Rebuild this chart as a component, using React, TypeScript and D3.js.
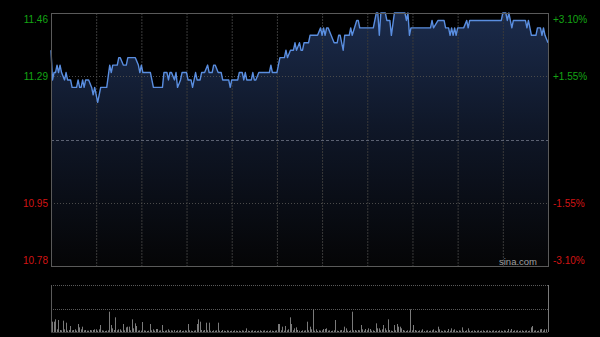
import React from "react";
import * as d3 from "d3";

// Intraday price breakpoints (minute index from 09:30, HK session 330 min)
const priceMinutes = [0,1,2,3,4,5,6,7,9,10,11,13,14,17,18,19,20,21,22,23,25,27,28,29,31,32,33,37,39,40,41,44,45,46,48,50,51,56,58,59,60,61,66,68,74,75,77,78,79,80,82,83,84,86,87,90,91,93,94,96,97,99,100,102,104,105,107,108,109,111,113,114,118,119,120,124,125,127,128,129,130,133,134,135,136,138,145,146,147,150,152,155,156,157,159,161,162,163,165,166,167,168,171,172,177,179,180,181,182,183,184,186,188,190,191,192,194,195,198,199,200,203,204,205,214,216,217,218,219,222,223,225,226,228,235,236,237,238,239,252,253,254,257,261,262,264,265,266,267,268,269,270,274,276,277,278,299,300,302,303,304,305,306,307,315,316,317,318,319,322,323,325,326,327,328,330];
const prices = [11.36,11.28,11.30,11.30,11.32,11.30,11.32,11.30,11.28,11.30,11.28,11.28,11.26,11.26,11.28,11.26,11.26,11.28,11.26,11.28,11.28,11.26,11.24,11.26,11.22,11.24,11.26,11.26,11.32,11.30,11.32,11.32,11.34,11.34,11.32,11.32,11.34,11.34,11.32,11.30,11.32,11.30,11.30,11.26,11.26,11.30,11.30,11.28,11.30,11.30,11.28,11.30,11.26,11.28,11.30,11.30,11.28,11.28,11.26,11.30,11.28,11.28,11.30,11.30,11.32,11.30,11.30,11.32,11.32,11.30,11.30,11.28,11.28,11.26,11.28,11.28,11.30,11.30,11.28,11.30,11.28,11.28,11.30,11.28,11.28,11.30,11.30,11.32,11.30,11.30,11.34,11.34,11.36,11.34,11.36,11.36,11.38,11.36,11.38,11.36,11.36,11.38,11.38,11.40,11.40,11.42,11.40,11.42,11.40,11.42,11.42,11.40,11.38,11.38,11.40,11.40,11.36,11.40,11.40,11.42,11.40,11.44,11.44,11.42,11.42,11.46,11.46,11.40,11.46,11.46,11.44,11.44,11.40,11.46,11.46,11.44,11.46,11.40,11.42,11.42,11.44,11.42,11.44,11.44,11.42,11.42,11.40,11.42,11.40,11.42,11.40,11.42,11.42,11.44,11.42,11.44,11.44,11.46,11.46,11.44,11.46,11.44,11.42,11.44,11.44,11.42,11.44,11.42,11.40,11.40,11.42,11.42,11.40,11.42,11.40,11.38];

// Per-minute volume (relative units)
const volumes = [
  101,31,31,38,8,36,6,5,34,8,
  28,4,6,18,5,6,8,4,24,14,
  8,16,5,6,4,4,6,5,6,8,
  8,4,8,21,5,4,3,4,5,61,
  21,11,6,44,5,8,8,4,24,5,
  14,16,16,5,38,11,26,18,4,5,
  4,30,5,4,3,4,24,5,8,4,
  9,9,4,5,21,3,4,5,8,4,
  5,4,6,3,5,4,6,3,4,5,
  4,24,5,4,3,4,5,24,38,31,
  6,4,6,28,5,28,4,3,5,4,
  5,28,4,3,6,4,3,5,4,3,
  4,3,5,4,3,4,3,5,4,3,
  11,4,3,4,5,3,4,3,4,5,
  3,4,5,3,4,3,5,4,3,4,
  5,24,24,5,16,4,18,5,8,44,
  24,5,11,14,6,4,3,5,4,5,
  31,5,16,8,68,4,8,3,5,4,
  5,9,9,11,4,5,3,4,5,36,
  4,3,5,6,4,16,11,4,3,5,
  61,5,6,4,6,5,21,8,4,9,
  5,11,9,4,5,3,26,11,11,5,
  8,21,11,5,38,6,4,3,21,5,
  24,16,16,11,6,4,3,5,4,68,
  5,21,6,4,3,5,4,8,3,4,
  5,3,4,5,8,4,3,16,8,4,
  3,5,4,3,9,4,11,5,8,4,
  3,5,4,14,4,3,5,11,4,3,
  4,5,3,4,5,3,4,5,3,4,
  5,4,3,4,5,3,4,3,5,4,
  3,5,4,3,9,4,9,3,5,4,
  5,3,4,5,3,4,5,3,4,14,
  18,4,5,3,4,8,9,4,8,8,5
];

const prevClose = 11.12;
const priceTicks = [11.46, 11.29, 10.95, 10.78];
const pctTicks = ["+3.10%", "+1.55%", "-1.55%", "-3.10%"];
const gridMinutes = [30, 60, 90, 120, 150, 180, 210, 240, 270, 300];
const totalMinutes = 330;
const volMax = 141;

export default function App() {
  const W = 600, H = 337;
  const L = 51, R = 548, T = 13, B = 266;
  const vT = 285, vB = 332;
  const x = d3.scaleLinear().domain([0, totalMinutes]).range([L, R]);
  const y = d3.scaleLinear().domain([10.78, 11.46]).range([B, T]);
  const yv = d3.scaleLinear().domain([0, volMax]).range([vB, vT]);
  const pts = priceMinutes.map((m, i) => [m, prices[i]] as [number, number]);
  const line = d3.line<[number, number]>().x(d => x(d[0])).y(d => y(d[1]));
  const area = d3.area<[number, number]>().x(d => x(d[0])).y0(B).y1(d => y(d[1]));
  const font = "'Liberation Sans', Arial, sans-serif";
  const yMax = d3.max(priceTicks)!, yMin = d3.min(priceTicks)!;
  const labelY = (v: number) => v === yMax ? y(v) + 9.6 : v === yMin ? y(v) - 2 : y(v) + 3.8;
  const col = (v: number) => v > prevClose ? "#14a514" : "#d21414";
  return (
    <div style={{ position: "fixed", left: 0, top: 0, width: W, height: H, background: "#000" }}>
      <svg width={W} height={H} style={{ display: "block" }}>
        <defs>
          <linearGradient id="fillG" x1="0" y1={T} x2="0" y2={B} gradientUnits="userSpaceOnUse">
            <stop offset="0" stopColor="#1b2b4b" />
            <stop offset="0.45" stopColor="#0f1728" />
            <stop offset="1" stopColor="#050506" />
          </linearGradient>
        </defs>
        <rect x={0} y={0} width={W} height={H} fill="#000" />
        <path d={area(pts) || ""} fill="url(#fillG)" />
        {gridMinutes.map(m => (
          <line key={m} x1={x(m) + 0.5} x2={x(m) + 0.5} y1={T} y2={B} stroke="#3a3a3a" strokeDasharray="2,1" />
        ))}
        {priceTicks.filter(v => v !== yMax && v !== yMin).map(v => (
          <line key={v} x1={L} x2={R} y1={Math.round(y(v)) + 0.5} y2={Math.round(y(v)) + 0.5} stroke="#4a4a4a" strokeDasharray="1,2" />
        ))}
        <line x1={L} x2={R} y1={Math.round(y(prevClose)) + 0.5} y2={Math.round(y(prevClose)) + 0.5} stroke="#5c6272" strokeDasharray="3,2" />
        <path d={line(pts) || ""} fill="none" stroke="#5a8ee0" strokeWidth={1.4} strokeLinejoin="round" />
        <rect x={L + 0.5} y={T + 0.5} width={R - L} height={B - T} fill="none" stroke="#5a5a5a" />
        {priceTicks.map(v => (
          <text key={v} x={48} y={labelY(v)} textAnchor="end" fontFamily={font} fontSize={10} fill={col(v)}>{v.toFixed(2)}</text>
        ))}
        {priceTicks.map((v, i) => (
          <text key={"p" + v} x={553} y={labelY(v)} textAnchor="start" fontFamily={font} fontSize={10} fill={col(v)}>{pctTicks[i]}</text>
        ))}
        <text x={537} y={265} textAnchor="end" fontFamily={font} fontSize={9.5} fill="#a0a0a0">sina.com</text>
        {/* volume panel */}
        <line x1={L} x2={R} y1={vT + 0.5} y2={vT + 0.5} stroke="#5a5a5a" strokeDasharray="1,1" />
        <line x1={L} x2={R} y1={Math.round(yv(volMax / 2)) + 0.5} y2={Math.round(yv(volMax / 2)) + 0.5} stroke="#5a5a5a" strokeDasharray="1,1" />
        {volumes.map((v, i) => (
          <rect key={i} x={Math.floor(x(i))} y={yv(v)} width={1} height={vB - yv(v)} fill="#7a7a7a" />
        ))}
        <line x1={L + 0.5} x2={L + 0.5} y1={vT} y2={vB} stroke="#5a5a5a" />
        <line x1={R + 0.5} x2={R + 0.5} y1={vT} y2={vB} stroke="#7a7a7a" />
        <line x1={L} x2={R} y1={vB + 0.5} y2={vB + 0.5} stroke="#3a3a3a" />
      </svg>
    </div>
  );
}
